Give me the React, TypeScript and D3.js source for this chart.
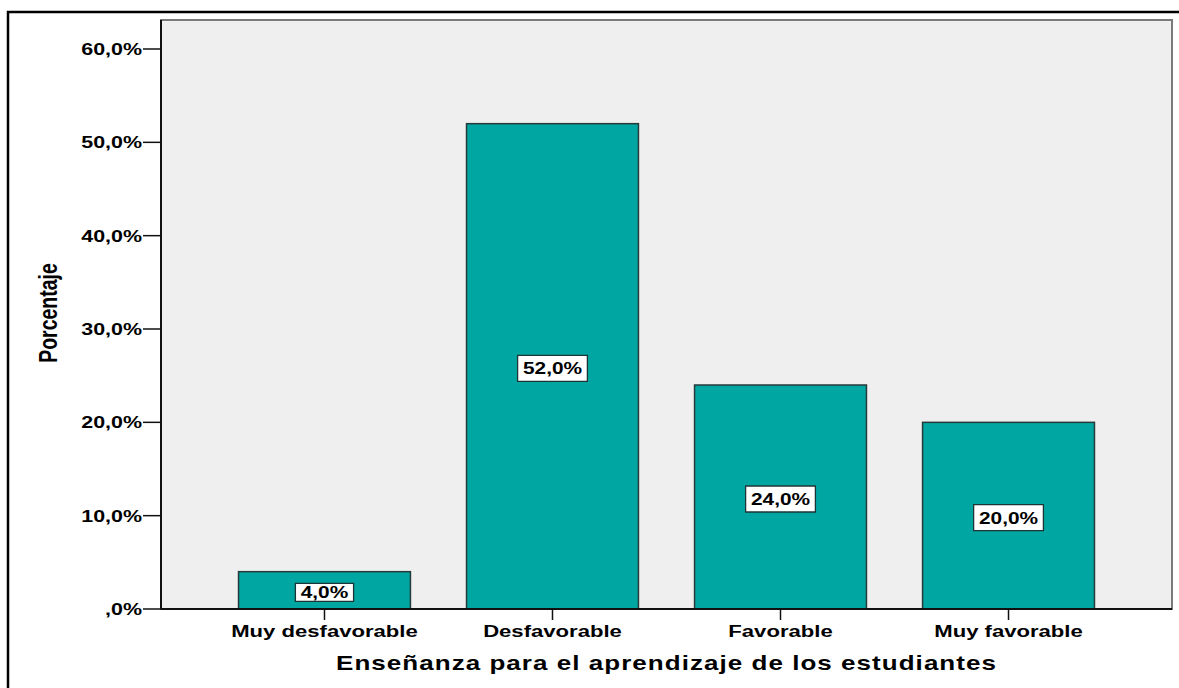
import { useEffect, useRef } from 'react';
import * as d3 from 'd3';

const categories = ['Muy desfavorable', 'Desfavorable', 'Favorable', 'Muy favorable'];
const percentages = [4.0, 52.0, 24.0, 20.0];
const yTicks = [0, 10, 20, 30, 40, 50, 60];
const yTitle = 'Porcentaje';
const xTitle = 'Enseñanza para el aprendizaje de los estudiantes';

const W = 1179;
const H = 688;
const plot = { left: 161, right: 1172, top: 20, bottom: 609 };
const FONT = '"Liberation Sans", Arial, sans-serif';
const STRETCH = 1.3; // the original picture is widened horizontally

const fmt = (v: number) => (v === 0 ? ',0%' : `${v.toFixed(1).replace('.', ',')}%`);

export default function App() {
  const ref = useRef<SVGSVGElement>(null);

  useEffect(() => {
    const svg = d3.select(ref.current);
    svg.selectAll('*').remove();

    const x = d3
      .scaleBand<string>()
      .domain(categories)
      .range([plot.left, plot.right])
      .paddingInner(0.246)
      .paddingOuter(0.34);
    const y = d3.scaleLinear().domain([0, 60]).range([plot.bottom, 49]);

    // outer frame
    svg
      .append('rect')
      .attr('x', 8)
      .attr('y', 12)
      .attr('width', W + 20)
      .attr('height', H + 20)
      .attr('fill', '#fff')
      .attr('stroke', '#000')
      .attr('stroke-width', 2.5);

    // plot background
    svg
      .append('rect')
      .attr('x', plot.left)
      .attr('y', plot.top)
      .attr('width', plot.right - plot.left)
      .attr('height', plot.bottom - plot.top)
      .attr('fill', '#efefef')
      .attr('stroke', '#7a7a7a')
      .attr('stroke-width', 2);

    // bars
    svg
      .append('g')
      .selectAll('rect')
      .data(categories)
      .join('rect')
      .attr('x', (d) => x(d)!)
      .attr('y', (_, i) => y(percentages[i]))
      .attr('width', x.bandwidth())
      .attr('height', (_, i) => plot.bottom - y(percentages[i]))
      .attr('fill', '#00a6a2')
      .attr('stroke', '#263a3a')
      .attr('stroke-width', 1.5);

    // axes lines
    svg
      .append('line')
      .attr('x1', plot.left)
      .attr('x2', plot.left)
      .attr('y1', plot.top)
      .attr('y2', plot.bottom)
      .attr('stroke', '#111')
      .attr('stroke-width', 2);
    svg
      .append('line')
      .attr('x1', plot.left)
      .attr('x2', plot.right)
      .attr('y1', plot.bottom)
      .attr('y2', plot.bottom)
      .attr('stroke', '#111')
      .attr('stroke-width', 2);

    // y ticks
    const yt = svg.append('g');
    yTicks.forEach((t) => {
      yt.append('line')
        .attr('x1', plot.left - 18)
        .attr('x2', plot.left)
        .attr('y1', y(t))
        .attr('y2', y(t))
        .attr('stroke', '#111')
        .attr('stroke-width', 1.5);
      yt.append('text')
        .attr('transform', `translate(${plot.left - 19},${y(t)}) scale(${STRETCH},1)`)
        .attr('dy', '0.36em')
        .attr('text-anchor', 'end')
        .attr('font-family', FONT)
        .attr('font-weight', 'bold')
        .attr('font-size', 16.5)
        .attr('fill', '#000')
        .text(fmt(t));
    });

    // x ticks
    const xt = svg.append('g');
    categories.forEach((c) => {
      const cx = x(c)! + x.bandwidth() / 2;
      xt.append('line')
        .attr('x1', cx)
        .attr('x2', cx)
        .attr('y1', plot.bottom)
        .attr('y2', plot.bottom + 11)
        .attr('stroke', '#111')
        .attr('stroke-width', 1.5);
      xt.append('text')
        .attr('transform', `translate(${cx},637) scale(${STRETCH},1)`)
        .attr('text-anchor', 'middle')
        .attr('font-family', FONT)
        .attr('font-weight', 'bold')
        .attr('font-size', 17)
        .attr('fill', '#000')
        .text(c);
    });

    // value labels
    categories.forEach((c, i) => {
      const cx = x(c)! + x.bandwidth() / 2;
      const top = y(percentages[i]);
      const cy = (top + plot.bottom) / 2 + 2;
      const boxH = Math.min(26, (plot.bottom - top) * 0.48);
      const g = svg
        .append('g')
        .attr('transform', `translate(${cx},${cy}) scale(1.28,1)`);
      const rect = g.append('rect');
      const txt = g
        .append('text')
        .attr('text-anchor', 'middle')
        .attr('dy', '0.36em')
        .attr('font-family', FONT)
        .attr('font-weight', 'bold')
        .attr('font-size', 16.3)
        .attr('fill', '#000')
        .text(fmt(percentages[i]));
      const bb = (txt.node() as SVGTextElement).getBBox();
      const bw = bb.width + 8;
      rect
        .attr('x', -bw / 2)
        .attr('y', -boxH / 2)
        .attr('width', bw)
        .attr('height', boxH)
        .attr('fill', '#fff')
        .attr('stroke', '#1e3434')
        .attr('stroke-width', 1.3)
        .attr('vector-effect', 'non-scaling-stroke');
    });

    // axis titles
    svg
      .append('text')
      .attr('transform', `translate(${(plot.left + plot.right) / 2},670) scale(${STRETCH},1)`)
      .attr('text-anchor', 'middle')
      .attr('font-family', FONT)
      .attr('font-weight', 'bold')
      .attr('font-size', 20)
      .attr('letter-spacing', 0.8)
      .attr('fill', '#000')
      .text(xTitle);

    svg
      .append('text')
      .attr('transform', `translate(57,313) scale(${STRETCH},1) rotate(-90)`)
      .attr('text-anchor', 'middle')
      .attr('font-family', FONT)
      .attr('font-weight', 'bold')
      .attr('font-size', 19.5)
      .attr('fill', '#000')
      .text(yTitle);
  }, []);

  return (
    <div style={{ position: 'fixed', left: 0, top: 0, width: W, height: H, background: '#fff' }}>
      <svg ref={ref} width={W} height={H} style={{ display: 'block' }} />
    </div>
  );
}
